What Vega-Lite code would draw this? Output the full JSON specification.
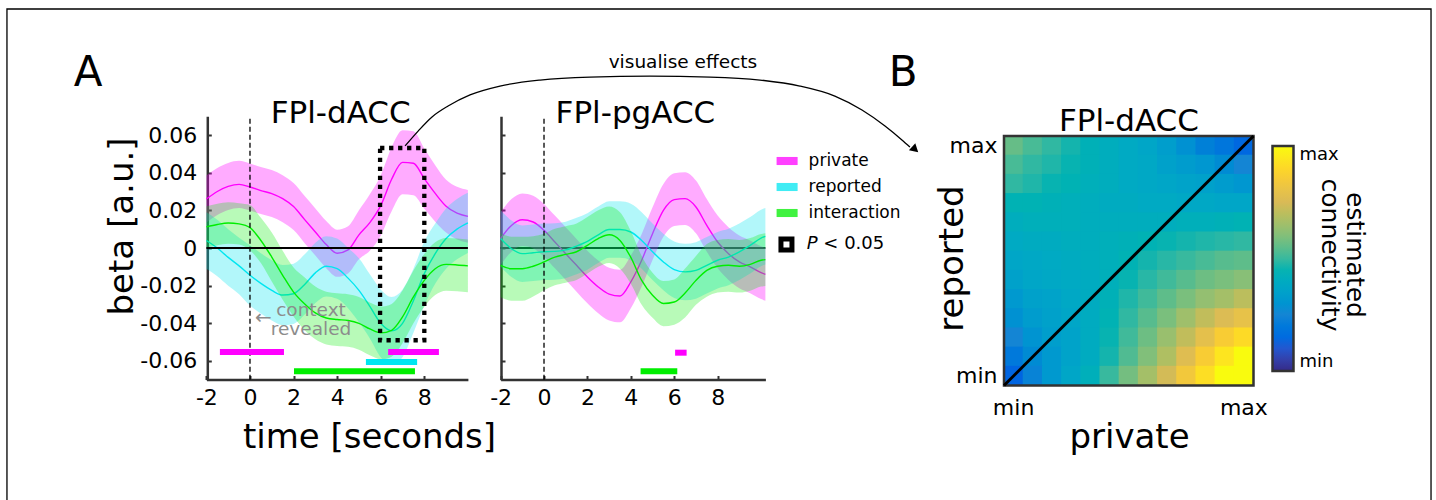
{
"$schema": "https://vega.github.io/schema/vega-lite/v6.json",
"width": 1424,
"height": 491,
"autosize": {"type": "none"},
"padding": {"left": 7, "top": 9, "right": 5, "bottom": 0},
"background": "white",
"config": {
  "font": "DejaVu Sans",
  "view": {"stroke": null},
  "axis": {"grid": false, "domainColor": "#333333", "domainWidth": 2.5, "tickColor": "#333333", "tickWidth": 2, "tickSize": -4, "labelFontSize": 22, "labelColor": "black", "labelFlush": false, "labelOverlap": false, "titleFontWeight": "normal", "titleColor": "black", "titleFontSize": 34},
  "legend": {"labelColor": "black"}
},
"datasets": {
  "curves": [
    {"p":"L","s":"private","t":-2,"b":0.026,"lo":0.0135,"hi":0.0385},
    {"p":"L","s":"private","t":-1.5,"b":0.030,"lo":0.0175,"hi":0.0425},
    {"p":"L","s":"private","t":-1,"b":0.0327,"lo":0.0202,"hi":0.0452},
    {"p":"L","s":"private","t":-0.5,"b":0.0338,"lo":0.0213,"hi":0.0463},
    {"p":"L","s":"private","t":0,"b":0.0324,"lo":0.0199,"hi":0.0449},
    {"p":"L","s":"private","t":0.5,"b":0.0305,"lo":0.018,"hi":0.043},
    {"p":"L","s":"private","t":1,"b":0.0289,"lo":0.0164,"hi":0.0414},
    {"p":"L","s":"private","t":1.5,"b":0.0262,"lo":0.0137,"hi":0.0387},
    {"p":"L","s":"private","t":2,"b":0.022,"lo":0.0095,"hi":0.0345},
    {"p":"L","s":"private","t":2.5,"b":0.0152,"lo":0.0027,"hi":0.0277},
    {"p":"L","s":"private","t":3,"b":0.0085,"lo":-0.004,"hi":0.021},
    {"p":"L","s":"private","t":3.5,"b":0.0018,"lo":-0.0107,"hi":0.0143},
    {"p":"L","s":"private","t":4,"b":-0.0028,"lo":-0.0153,"hi":0.0097},
    {"p":"L","s":"private","t":4.5,"b":-0.001,"lo":-0.0135,"hi":0.0115},
    {"p":"L","s":"private","t":5,"b":0.007,"lo":-0.006,"hi":0.02},
    {"p":"L","s":"private","t":5.5,"b":0.0135,"lo":-0.0015,"hi":0.0285},
    {"p":"L","s":"private","t":6,"b":0.0225,"lo":0.0065,"hi":0.0385},
    {"p":"L","s":"private","t":6.5,"b":0.0365,"lo":0.0195,"hi":0.0535},
    {"p":"L","s":"private","t":7,"b":0.0455,"lo":0.0285,"hi":0.0625},
    {"p":"L","s":"private","t":7.5,"b":0.045,"lo":0.028,"hi":0.062},
    {"p":"L","s":"private","t":8,"b":0.0368,"lo":0.0208,"hi":0.0528},
    {"p":"L","s":"private","t":8.5,"b":0.029,"lo":0.014,"hi":0.044},
    {"p":"L","s":"private","t":9,"b":0.0222,"lo":0.0082,"hi":0.0362},
    {"p":"L","s":"private","t":9.5,"b":0.0185,"lo":0.0045,"hi":0.0325},
    {"p":"L","s":"private","t":10,"b":0.0168,"lo":0.0028,"hi":0.0308},
    {"p":"L","s":"reported","t":-2,"b":0.004,"lo":-0.011,"hi":0.019},
    {"p":"L","s":"reported","t":-1.5,"b":0.0,"lo":-0.015,"hi":0.015},
    {"p":"L","s":"reported","t":-1,"b":-0.005,"lo":-0.02,"hi":0.01},
    {"p":"L","s":"reported","t":-0.5,"b":-0.0095,"lo":-0.0245,"hi":0.0055},
    {"p":"L","s":"reported","t":0,"b":-0.0145,"lo":-0.0305,"hi":0.0015},
    {"p":"L","s":"reported","t":0.5,"b":-0.0188,"lo":-0.0348,"hi":-0.0028},
    {"p":"L","s":"reported","t":1,"b":-0.0225,"lo":-0.0385,"hi":-0.0065},
    {"p":"L","s":"reported","t":1.5,"b":-0.025,"lo":-0.041,"hi":-0.009},
    {"p":"L","s":"reported","t":2,"b":-0.0243,"lo":-0.0403,"hi":-0.0083},
    {"p":"L","s":"reported","t":2.5,"b":-0.0195,"lo":-0.0355,"hi":-0.0035},
    {"p":"L","s":"reported","t":3,"b":-0.0132,"lo":-0.0292,"hi":0.0028},
    {"p":"L","s":"reported","t":3.5,"b":-0.0097,"lo":-0.0257,"hi":0.0063},
    {"p":"L","s":"reported","t":4,"b":-0.011,"lo":-0.027,"hi":0.005},
    {"p":"L","s":"reported","t":4.5,"b":-0.016,"lo":-0.032,"hi":0.0},
    {"p":"L","s":"reported","t":5,"b":-0.0225,"lo":-0.0395,"hi":-0.0055},
    {"p":"L","s":"reported","t":5.5,"b":-0.031,"lo":-0.048,"hi":-0.014},
    {"p":"L","s":"reported","t":6,"b":-0.040,"lo":-0.058,"hi":-0.022},
    {"p":"L","s":"reported","t":6.5,"b":-0.044,"lo":-0.062,"hi":-0.026},
    {"p":"L","s":"reported","t":7,"b":-0.040,"lo":-0.058,"hi":-0.022},
    {"p":"L","s":"reported","t":7.5,"b":-0.028,"lo":-0.045,"hi":-0.011},
    {"p":"L","s":"reported","t":8,"b":-0.0136,"lo":-0.0306,"hi":0.0034},
    {"p":"L","s":"reported","t":8.5,"b":-0.003,"lo":-0.019,"hi":0.013},
    {"p":"L","s":"reported","t":9,"b":0.005,"lo":-0.011,"hi":0.021},
    {"p":"L","s":"reported","t":9.5,"b":0.010,"lo":-0.006,"hi":0.026},
    {"p":"L","s":"reported","t":10,"b":0.0133,"lo":-0.0027,"hi":0.0293},
    {"p":"L","s":"interaction","t":-2,"b":0.0112,"lo":0.0002,"hi":0.0222},
    {"p":"L","s":"interaction","t":-1.5,"b":0.0125,"lo":0.0015,"hi":0.0235},
    {"p":"L","s":"interaction","t":-1,"b":0.0133,"lo":0.0023,"hi":0.0243},
    {"p":"L","s":"interaction","t":-0.5,"b":0.0128,"lo":0.0018,"hi":0.0238},
    {"p":"L","s":"interaction","t":0,"b":0.0108,"lo":-0.0012,"hi":0.0228},
    {"p":"L","s":"interaction","t":0.5,"b":0.004,"lo":-0.008,"hi":0.016},
    {"p":"L","s":"interaction","t":1,"b":-0.0048,"lo":-0.0178,"hi":0.0082},
    {"p":"L","s":"interaction","t":1.5,"b":-0.0145,"lo":-0.0275,"hi":-0.0015},
    {"p":"L","s":"interaction","t":2,"b":-0.0234,"lo":-0.0364,"hi":-0.0104},
    {"p":"L","s":"interaction","t":2.5,"b":-0.0296,"lo":-0.0436,"hi":-0.0156},
    {"p":"L","s":"interaction","t":3,"b":-0.0345,"lo":-0.0485,"hi":-0.0205},
    {"p":"L","s":"interaction","t":3.5,"b":-0.0372,"lo":-0.0512,"hi":-0.0232},
    {"p":"L","s":"interaction","t":4,"b":-0.038,"lo":-0.052,"hi":-0.024},
    {"p":"L","s":"interaction","t":4.5,"b":-0.0385,"lo":-0.0525,"hi":-0.0245},
    {"p":"L","s":"interaction","t":5,"b":-0.040,"lo":-0.054,"hi":-0.026},
    {"p":"L","s":"interaction","t":5.5,"b":-0.043,"lo":-0.057,"hi":-0.029},
    {"p":"L","s":"interaction","t":6,"b":-0.0451,"lo":-0.0591,"hi":-0.0311},
    {"p":"L","s":"interaction","t":6.5,"b":-0.0437,"lo":-0.0577,"hi":-0.0297},
    {"p":"L","s":"interaction","t":7,"b":-0.0366,"lo":-0.0506,"hi":-0.0226},
    {"p":"L","s":"interaction","t":7.5,"b":-0.026,"lo":-0.04,"hi":-0.012},
    {"p":"L","s":"interaction","t":8,"b":-0.0172,"lo":-0.0312,"hi":-0.0032},
    {"p":"L","s":"interaction","t":8.5,"b":-0.011,"lo":-0.025,"hi":0.003},
    {"p":"L","s":"interaction","t":9,"b":-0.0087,"lo":-0.0227,"hi":0.0053},
    {"p":"L","s":"interaction","t":9.5,"b":-0.009,"lo":-0.023,"hi":0.005},
    {"p":"L","s":"interaction","t":10,"b":-0.0095,"lo":-0.0235,"hi":0.0045},
    {"p":"M","s":"private","t":-2,"b":0.005,"lo":-0.009,"hi":0.019},
    {"p":"M","s":"private","t":-1.5,"b":0.012,"lo":-0.002,"hi":0.026},
    {"p":"M","s":"private","t":-1,"b":0.015,"lo":0.001,"hi":0.029},
    {"p":"M","s":"private","t":-0.5,"b":0.0138,"lo":-0.0002,"hi":0.0278},
    {"p":"M","s":"private","t":0,"b":0.0094,"lo":-0.0046,"hi":0.0234},
    {"p":"M","s":"private","t":0.5,"b":0.0032,"lo":-0.0108,"hi":0.0172},
    {"p":"M","s":"private","t":1,"b":-0.003,"lo":-0.017,"hi":0.011},
    {"p":"M","s":"private","t":1.5,"b":-0.0092,"lo":-0.0232,"hi":0.0048},
    {"p":"M","s":"private","t":2,"b":-0.0154,"lo":-0.0294,"hi":-0.0014},
    {"p":"M","s":"private","t":2.5,"b":-0.0207,"lo":-0.0347,"hi":-0.0067},
    {"p":"M","s":"private","t":3,"b":-0.0245,"lo":-0.0385,"hi":-0.0105},
    {"p":"M","s":"private","t":3.5,"b":-0.0255,"lo":-0.0395,"hi":-0.0115},
    {"p":"M","s":"private","t":4,"b":-0.018,"lo":-0.032,"hi":-0.004},
    {"p":"M","s":"private","t":4.5,"b":-0.0065,"lo":-0.0205,"hi":0.0075},
    {"p":"M","s":"private","t":5,"b":0.0076,"lo":-0.0064,"hi":0.0216},
    {"p":"M","s":"private","t":5.5,"b":0.020,"lo":0.006,"hi":0.034},
    {"p":"M","s":"private","t":6,"b":0.0257,"lo":0.0117,"hi":0.0397},
    {"p":"M","s":"private","t":6.5,"b":0.0262,"lo":0.0122,"hi":0.0402},
    {"p":"M","s":"private","t":7,"b":0.0218,"lo":0.0078,"hi":0.0358},
    {"p":"M","s":"private","t":7.5,"b":0.012,"lo":-0.002,"hi":0.026},
    {"p":"M","s":"private","t":8,"b":0.0032,"lo":-0.0108,"hi":0.0172},
    {"p":"M","s":"private","t":8.5,"b":-0.003,"lo":-0.017,"hi":0.011},
    {"p":"M","s":"private","t":9,"b":-0.0074,"lo":-0.0214,"hi":0.0066},
    {"p":"M","s":"private","t":9.5,"b":-0.010,"lo":-0.024,"hi":0.004},
    {"p":"M","s":"private","t":10,"b":-0.0131,"lo":-0.0271,"hi":0.0009},
    {"p":"M","s":"private","t":10.2,"b":-0.014,"lo":-0.028,"hi":0.0},
    {"p":"M","s":"reported","t":-2,"b":0.005,"lo":-0.01,"hi":0.02},
    {"p":"M","s":"reported","t":-1.5,"b":-0.0004,"lo":-0.0154,"hi":0.0146},
    {"p":"M","s":"reported","t":-1,"b":-0.003,"lo":-0.018,"hi":0.012},
    {"p":"M","s":"reported","t":-0.5,"b":-0.0025,"lo":-0.0175,"hi":0.0125},
    {"p":"M","s":"reported","t":0,"b":-0.002,"lo":-0.017,"hi":0.013},
    {"p":"M","s":"reported","t":0.5,"b":-0.0018,"lo":-0.0168,"hi":0.0132},
    {"p":"M","s":"reported","t":1,"b":-0.001,"lo":-0.016,"hi":0.014},
    {"p":"M","s":"reported","t":1.5,"b":0.001,"lo":-0.014,"hi":0.016},
    {"p":"M","s":"reported","t":2,"b":0.0035,"lo":-0.0115,"hi":0.0185},
    {"p":"M","s":"reported","t":2.5,"b":0.007,"lo":-0.008,"hi":0.022},
    {"p":"M","s":"reported","t":3,"b":0.0098,"lo":-0.0052,"hi":0.0248},
    {"p":"M","s":"reported","t":3.5,"b":0.0098,"lo":-0.0052,"hi":0.0248},
    {"p":"M","s":"reported","t":4,"b":0.0085,"lo":-0.0065,"hi":0.0235},
    {"p":"M","s":"reported","t":4.5,"b":0.004,"lo":-0.011,"hi":0.019},
    {"p":"M","s":"reported","t":5,"b":-0.002,"lo":-0.017,"hi":0.013},
    {"p":"M","s":"reported","t":5.5,"b":-0.0074,"lo":-0.0224,"hi":0.0076},
    {"p":"M","s":"reported","t":6,"b":-0.0115,"lo":-0.0265,"hi":0.0035},
    {"p":"M","s":"reported","t":6.5,"b":-0.0127,"lo":-0.0277,"hi":0.0023},
    {"p":"M","s":"reported","t":7,"b":-0.0119,"lo":-0.0269,"hi":0.0031},
    {"p":"M","s":"reported","t":7.5,"b":-0.0092,"lo":-0.0242,"hi":0.0058},
    {"p":"M","s":"reported","t":8,"b":-0.0065,"lo":-0.0215,"hi":0.0085},
    {"p":"M","s":"reported","t":8.5,"b":-0.0048,"lo":-0.0198,"hi":0.0102},
    {"p":"M","s":"reported","t":9,"b":-0.002,"lo":-0.017,"hi":0.013},
    {"p":"M","s":"reported","t":9.5,"b":0.0014,"lo":-0.0136,"hi":0.0164},
    {"p":"M","s":"reported","t":10,"b":0.0053,"lo":-0.0097,"hi":0.0203},
    {"p":"M","s":"reported","t":10.2,"b":0.0062,"lo":-0.0088,"hi":0.0212},
    {"p":"M","s":"interaction","t":-2,"b":-0.0092,"lo":-0.0262,"hi":0.0078},
    {"p":"M","s":"interaction","t":-1.5,"b":-0.011,"lo":-0.028,"hi":0.006},
    {"p":"M","s":"interaction","t":-1,"b":-0.011,"lo":-0.028,"hi":0.006},
    {"p":"M","s":"interaction","t":-0.5,"b":-0.0097,"lo":-0.0257,"hi":0.0063},
    {"p":"M","s":"interaction","t":0,"b":-0.0074,"lo":-0.0224,"hi":0.0076},
    {"p":"M","s":"interaction","t":0.5,"b":-0.0048,"lo":-0.0198,"hi":0.0102},
    {"p":"M","s":"interaction","t":1,"b":-0.0034,"lo":-0.0184,"hi":0.0116},
    {"p":"M","s":"interaction","t":1.5,"b":-0.002,"lo":-0.017,"hi":0.013},
    {"p":"M","s":"interaction","t":2,"b":0.0014,"lo":-0.0136,"hi":0.0164},
    {"p":"M","s":"interaction","t":2.5,"b":0.005,"lo":-0.01,"hi":0.02},
    {"p":"M","s":"interaction","t":3,"b":0.007,"lo":-0.008,"hi":0.022},
    {"p":"M","s":"interaction","t":3.5,"b":0.004,"lo":-0.011,"hi":0.019},
    {"p":"M","s":"interaction","t":4,"b":-0.005,"lo":-0.019,"hi":0.009},
    {"p":"M","s":"interaction","t":4.5,"b":-0.0172,"lo":-0.0302,"hi":-0.0042},
    {"p":"M","s":"interaction","t":5,"b":-0.0251,"lo":-0.0371,"hi":-0.0131},
    {"p":"M","s":"interaction","t":5.5,"b":-0.0295,"lo":-0.0415,"hi":-0.0175},
    {"p":"M","s":"interaction","t":6,"b":-0.0287,"lo":-0.0407,"hi":-0.0167},
    {"p":"M","s":"interaction","t":6.5,"b":-0.0239,"lo":-0.0369,"hi":-0.0109},
    {"p":"M","s":"interaction","t":7,"b":-0.0172,"lo":-0.0302,"hi":-0.0042},
    {"p":"M","s":"interaction","t":7.5,"b":-0.0119,"lo":-0.0259,"hi":0.0021},
    {"p":"M","s":"interaction","t":8,"b":-0.0097,"lo":-0.0237,"hi":0.0043},
    {"p":"M","s":"interaction","t":8.5,"b":-0.0092,"lo":-0.0232,"hi":0.0048},
    {"p":"M","s":"interaction","t":9,"b":-0.0097,"lo":-0.0237,"hi":0.0043},
    {"p":"M","s":"interaction","t":9.5,"b":-0.0087,"lo":-0.0227,"hi":0.0053},
    {"p":"M","s":"interaction","t":10,"b":-0.0065,"lo":-0.0205,"hi":0.0075},
    {"p":"M","s":"interaction","t":10.2,"b":-0.0062,"lo":-0.0202,"hi":0.0078}
  ],
  "sig": [
    {"p":"L","s":"private","t0":-1.38,"t1":1.56},
    {"p":"L","s":"private","t0":6.34,"t1":8.67},
    {"p":"L","s":"reported","t0":5.32,"t1":7.67},
    {"p":"L","s":"interaction","t0":2.02,"t1":7.57},
    {"p":"M","s":"private","t0":6.04,"t1":6.57},
    {"p":"M","s":"interaction","t0":4.45,"t1":6.14}
  ],
  "arrow": [
    {"t":-6.40,"v":0.0542},{"t":-5.80,"v":0.0621},{"t":-5.16,"v":0.0696},{"t":-4.42,"v":0.0754},
    {"t":-3.41,"v":0.0813},{"t":-2.03,"v":0.0860},{"t":-0.18,"v":0.0892},{"t":2.12,"v":0.0908},
    {"t":4.88,"v":0.0913},{"t":7.65,"v":0.0908},{"t":9.95,"v":0.0892},{"t":11.79,"v":0.0860},
    {"t":13.40,"v":0.0807},{"t":14.65,"v":0.0733},{"t":15.71,"v":0.0648},{"t":16.49,"v":0.0574},
    {"t":16.86,"v":0.0536}
  ],
  "heat": [
    {"p":1,"r":13,"c":0.56},{"p":2,"r":13,"c":0.52},{"p":3,"r":13,"c":0.49},{"p":4,"r":13,"c":0.46},{"p":5,"r":13,"c":0.43},{"p":6,"r":13,"c":0.41},{"p":7,"r":13,"c":0.39},{"p":8,"r":13,"c":0.37},{"p":9,"r":13,"c":0.34},{"p":10,"r":13,"c":0.29},{"p":11,"r":13,"c":0.23},{"p":12,"r":13,"c":0.19},{"p":13,"r":13,"c":0.14},
    {"p":1,"r":12,"c":0.52},{"p":2,"r":12,"c":0.49},{"p":3,"r":12,"c":0.47},{"p":4,"r":12,"c":0.45},{"p":5,"r":12,"c":0.43},{"p":6,"r":12,"c":0.41},{"p":7,"r":12,"c":0.39},{"p":8,"r":12,"c":0.38},{"p":9,"r":12,"c":0.35},{"p":10,"r":12,"c":0.33},{"p":11,"r":12,"c":0.31},{"p":12,"r":12,"c":0.27},{"p":13,"r":12,"c":0.25},
    {"p":1,"r":11,"c":0.49},{"p":2,"r":11,"c":0.47},{"p":3,"r":11,"c":0.45},{"p":4,"r":11,"c":0.44},{"p":5,"r":11,"c":0.42},{"p":6,"r":11,"c":0.41},{"p":7,"r":11,"c":0.39},{"p":8,"r":11,"c":0.38},{"p":9,"r":11,"c":0.37},{"p":10,"r":11,"c":0.36},{"p":11,"r":11,"c":0.35},{"p":12,"r":11,"c":0.33},{"p":13,"r":11,"c":0.31},
    {"p":1,"r":10,"c":0.44},{"p":2,"r":10,"c":0.44},{"p":3,"r":10,"c":0.43},{"p":4,"r":10,"c":0.42},{"p":5,"r":10,"c":0.41},{"p":6,"r":10,"c":0.40},{"p":7,"r":10,"c":0.40},{"p":8,"r":10,"c":0.39},{"p":9,"r":10,"c":0.39},{"p":10,"r":10,"c":0.38},{"p":11,"r":10,"c":0.38},{"p":12,"r":10,"c":0.37},{"p":13,"r":10,"c":0.37},
    {"p":1,"r":9,"c":0.41},{"p":2,"r":9,"c":0.42},{"p":3,"r":9,"c":0.42},{"p":4,"r":9,"c":0.42},{"p":5,"r":9,"c":0.41},{"p":6,"r":9,"c":0.41},{"p":7,"r":9,"c":0.41},{"p":8,"r":9,"c":0.41},{"p":9,"r":9,"c":0.41},{"p":10,"r":9,"c":0.42},{"p":11,"r":9,"c":0.42},{"p":12,"r":9,"c":0.43},{"p":13,"r":9,"c":0.44},
    {"p":1,"r":8,"c":0.39},{"p":2,"r":8,"c":0.40},{"p":3,"r":8,"c":0.40},{"p":4,"r":8,"c":0.41},{"p":5,"r":8,"c":0.41},{"p":6,"r":8,"c":0.42},{"p":7,"r":8,"c":0.43},{"p":8,"r":8,"c":0.44},{"p":9,"r":8,"c":0.45},{"p":10,"r":8,"c":0.46},{"p":11,"r":8,"c":0.47},{"p":12,"r":8,"c":0.48},{"p":13,"r":8,"c":0.49},
    {"p":1,"r":7,"c":0.37},{"p":2,"r":7,"c":0.38},{"p":3,"r":7,"c":0.39},{"p":4,"r":7,"c":0.40},{"p":5,"r":7,"c":0.41},{"p":6,"r":7,"c":0.42},{"p":7,"r":7,"c":0.44},{"p":8,"r":7,"c":0.46},{"p":9,"r":7,"c":0.48},{"p":10,"r":7,"c":0.50},{"p":11,"r":7,"c":0.52},{"p":12,"r":7,"c":0.54},{"p":13,"r":7,"c":0.55},
    {"p":1,"r":6,"c":0.35},{"p":2,"r":6,"c":0.37},{"p":3,"r":6,"c":0.38},{"p":4,"r":6,"c":0.39},{"p":5,"r":6,"c":0.40},{"p":6,"r":6,"c":0.42},{"p":7,"r":6,"c":0.45},{"p":8,"r":6,"c":0.48},{"p":9,"r":6,"c":0.51},{"p":10,"r":6,"c":0.54},{"p":11,"r":6,"c":0.57},{"p":12,"r":6,"c":0.59},{"p":13,"r":6,"c":0.61},
    {"p":1,"r":5,"c":0.32},{"p":2,"r":5,"c":0.35},{"p":3,"r":5,"c":0.36},{"p":4,"r":5,"c":0.38},{"p":5,"r":5,"c":0.40},{"p":6,"r":5,"c":0.43},{"p":7,"r":5,"c":0.47},{"p":8,"r":5,"c":0.51},{"p":9,"r":5,"c":0.55},{"p":10,"r":5,"c":0.59},{"p":11,"r":5,"c":0.63},{"p":12,"r":5,"c":0.66},{"p":13,"r":5,"c":0.70},
    {"p":1,"r":4,"c":0.29},{"p":2,"r":4,"c":0.33},{"p":3,"r":4,"c":0.35},{"p":4,"r":4,"c":0.37},{"p":5,"r":4,"c":0.40},{"p":6,"r":4,"c":0.44},{"p":7,"r":4,"c":0.49},{"p":8,"r":4,"c":0.54},{"p":9,"r":4,"c":0.59},{"p":10,"r":4,"c":0.65},{"p":11,"r":4,"c":0.71},{"p":12,"r":4,"c":0.76},{"p":13,"r":4,"c":0.80},
    {"p":1,"r":3,"c":0.25},{"p":2,"r":3,"c":0.30},{"p":3,"r":3,"c":0.34},{"p":4,"r":3,"c":0.36},{"p":5,"r":3,"c":0.40},{"p":6,"r":3,"c":0.45},{"p":7,"r":3,"c":0.51},{"p":8,"r":3,"c":0.57},{"p":9,"r":3,"c":0.64},{"p":10,"r":3,"c":0.71},{"p":11,"r":3,"c":0.79},{"p":12,"r":3,"c":0.86},{"p":13,"r":3,"c":0.91},
    {"p":1,"r":2,"c":0.20},{"p":2,"r":2,"c":0.27},{"p":3,"r":2,"c":0.32},{"p":4,"r":2,"c":0.36},{"p":5,"r":2,"c":0.40},{"p":6,"r":2,"c":0.46},{"p":7,"r":2,"c":0.53},{"p":8,"r":2,"c":0.60},{"p":9,"r":2,"c":0.68},{"p":10,"r":2,"c":0.77},{"p":11,"r":2,"c":0.86},{"p":12,"r":2,"c":0.94},{"p":13,"r":2,"c":1.0},
    {"p":1,"r":1,"c":0.13},{"p":2,"r":1,"c":0.24},{"p":3,"r":1,"c":0.32},{"p":4,"r":1,"c":0.37},{"p":5,"r":1,"c":0.42},{"p":6,"r":1,"c":0.50},{"p":7,"r":1,"c":0.58},{"p":8,"r":1,"c":0.66},{"p":9,"r":1,"c":0.74},{"p":10,"r":1,"c":0.84},{"p":11,"r":1,"c":0.92},{"p":12,"r":1,"c":1.0},{"p":13,"r":1,"c":1.0}
  ]
},
"layer": [
  {
    "layer": [
      {"data": {"name": "curves"}, "transform": [{"filter": "datum.p == 'L' && datum.s == 'private'"}],
       "mark": {"type": "area", "fillOpacity": 0.33, "interpolate": "monotone"},
       "encoding": {
         "x": {"field": "t", "type": "quantitative", "scale": {"domain": [-2, 10], "range": [199.4, 460.9], "nice": false, "zero": false},
               "axis": {"orient": "bottom", "offset": -120.5, "values": [-2, 0, 2, 4, 6, 8], "labelExpr": "replace(format(datum.value, 'd'), '\u2212', '-')", "labelPadding": 11.5, "title": "time [seconds]", "titleX": 362, "titleY": 57.5, "titleBaseline": "middle", "titleAlign": "center"}},
         "y": {"field": "lo", "type": "quantitative", "scale": {"domain": [-0.07, 0.07], "range": [370.8, 107.2], "nice": false, "zero": false},
               "axis": {"orient": "left", "offset": -200.3, "values": [-0.06, -0.04, -0.02, 0, 0.02, 0.04, 0.06], "labelExpr": "datum.value == 0 ? '0' : replace(format(datum.value, '.2f'), '\u2212', '-')", "labelPadding": 14.5, "title": "beta [a.u.]", "titleX": -85, "titleY": 217, "titleBaseline": "middle", "titleAlign": "center", "titleAngle": -90}},
         "y2": {"field": "hi"},
         "color": {"field": "s", "type": "nominal", "scale": {"domain": ["private", "reported", "interaction"], "range": ["#ff00ff", "#00e6f0", "#00ee00"]}, "legend": null}
       }},
      {"data": {"name": "curves"}, "transform": [{"filter": "datum.p == 'L' && datum.s == 'private'"}],
       "mark": {"type": "line", "strokeWidth": 1.4, "interpolate": "monotone"},
       "encoding": {"x": {"field": "t", "type": "quantitative"}, "y": {"field": "b", "type": "quantitative"}, "color": {"field": "s", "type": "nominal"}}},
      {"data": {"name": "curves"}, "transform": [{"filter": "datum.p == 'L' && datum.s == 'reported'"}],
       "mark": {"type": "area", "fillOpacity": 0.3, "interpolate": "monotone"},
       "encoding": {"x": {"field": "t", "type": "quantitative"}, "y": {"field": "lo", "type": "quantitative"}, "y2": {"field": "hi"}, "color": {"field": "s", "type": "nominal"}}},
      {"data": {"name": "curves"}, "transform": [{"filter": "datum.p == 'L' && datum.s == 'reported'"}],
       "mark": {"type": "line", "strokeWidth": 1.4, "interpolate": "monotone"},
       "encoding": {"x": {"field": "t", "type": "quantitative"}, "y": {"field": "b", "type": "quantitative"}, "color": {"field": "s", "type": "nominal"}}},
      {"data": {"name": "curves"}, "transform": [{"filter": "datum.p == 'L' && datum.s == 'interaction'"}],
       "mark": {"type": "area", "fillOpacity": 0.28, "interpolate": "monotone"},
       "encoding": {"x": {"field": "t", "type": "quantitative"}, "y": {"field": "lo", "type": "quantitative"}, "y2": {"field": "hi"}, "color": {"field": "s", "type": "nominal"}}},
      {"data": {"name": "curves"}, "transform": [{"filter": "datum.p == 'L' && datum.s == 'interaction'"}],
       "mark": {"type": "line", "strokeWidth": 1.4, "interpolate": "monotone"},
       "encoding": {"x": {"field": "t", "type": "quantitative"}, "y": {"field": "b", "type": "quantitative"}, "color": {"field": "s", "type": "nominal"}}},
      {"data": {"values": [{}]}, "mark": {"type": "rule", "color": "black", "strokeWidth": 2},
       "encoding": {"x": {"datum": -2, "type": "quantitative"}, "x2": {"datum": 10}, "y": {"datum": 0, "type": "quantitative"}}},
      {"data": {"values": [{}]}, "mark": {"type": "rule", "color": "black", "strokeWidth": 1.3, "strokeDash": [5, 3]},
       "encoding": {"x": {"datum": 0, "type": "quantitative"}, "y": {"datum": -0.07, "type": "quantitative"}, "y2": {"datum": 0.07}}},
      {"data": {"name": "sig"}, "transform": [{"filter": "datum.p == 'L' && datum.s == 'private'"}],
       "mark": {"type": "rule", "strokeWidth": 6},
       "encoding": {"x": {"field": "t0", "type": "quantitative"}, "x2": {"field": "t1"}, "y": {"datum": -0.0552, "type": "quantitative"}, "color": {"field": "s", "type": "nominal"}}},
      {"data": {"name": "sig"}, "transform": [{"filter": "datum.p == 'L' && datum.s == 'reported'"}],
       "mark": {"type": "rule", "strokeWidth": 6},
       "encoding": {"x": {"field": "t0", "type": "quantitative"}, "x2": {"field": "t1"}, "y": {"datum": -0.0605, "type": "quantitative"}, "color": {"field": "s", "type": "nominal"}}},
      {"data": {"name": "sig"}, "transform": [{"filter": "datum.p == 'L' && datum.s == 'interaction'"}],
       "mark": {"type": "rule", "strokeWidth": 6},
       "encoding": {"x": {"field": "t0", "type": "quantitative"}, "x2": {"field": "t1"}, "y": {"datum": -0.0655, "type": "quantitative"}, "color": {"field": "s", "type": "nominal"}}},
      {"data": {"values": [{}]}, "mark": {"type": "rect", "fillOpacity": 0, "stroke": "black", "strokeWidth": 4.3, "strokeDash": [4.3, 4.7]},
       "encoding": {"x": {"datum": 5.97, "type": "quantitative"}, "x2": {"datum": 8.0}, "y": {"datum": -0.049, "type": "quantitative"}, "y2": {"datum": 0.0531}}},
      {"data": {"values": [{}]}, "mark": {"type": "text", "text": "FPl-dACC", "fontSize": 31, "baseline": "alphabetic", "align": "center", "color": "black"},
       "encoding": {"x": {"datum": 4.16, "type": "quantitative"}, "y": {"datum": 0.0664, "type": "quantitative"}}},
      {"data": {"values": [{}]}, "mark": {"type": "text", "text": "A", "fontSize": 42, "baseline": "middle", "align": "center", "color": "black"},
       "encoding": {"x": {"datum": -7.43, "type": "quantitative"}, "y": {"datum": 0.0929, "type": "quantitative"}}},
      {"data": {"values": [{}]}, "mark": {"type": "text", "text": ["context", "revealed"], "fontSize": 18.5, "lineHeight": 19.5, "baseline": "middle", "align": "center", "color": "#8c8c8c"},
       "encoding": {"x": {"datum": 2.8, "type": "quantitative"}, "y": {"datum": -0.0329, "type": "quantitative"}}},
      {"data": {"values": [{}]}, "mark": {"type": "text", "text": "\u2190", "fontSize": 20, "baseline": "middle", "align": "center", "color": "#8c8c8c"},
       "encoding": {"x": {"datum": 0.62, "type": "quantitative"}, "y": {"datum": -0.0372, "type": "quantitative"}}}
    ]
  },
  {
    "layer": [
      {"data": {"values": [{}]}, "mark": {"type": "rule", "color": "black", "strokeWidth": 2},
       "encoding": {"x": {"datum": -2, "type": "quantitative", "scale": {"domain": [-2, 10.2], "range": [493.6, 758.4], "nice": false, "zero": false},
               "axis": {"orient": "bottom", "offset": -120.5, "values": [-2, 0, 2, 4, 6, 8], "labelExpr": "replace(format(datum.value, 'd'), '\u2212', '-')", "labelPadding": 11.5, "title": null}},
                    "x2": {"datum": 10.2},
                    "y": {"datum": 0, "type": "quantitative", "scale": {"domain": [-0.07, 0.07], "range": [370.8, 107.2], "nice": false, "zero": false},
               "axis": {"orient": "left", "offset": -494, "values": [-0.06, -0.04, -0.02, 0, 0.02, 0.04, 0.06], "labels": false, "title": null}}}},
      {"data": {"name": "curves"}, "transform": [{"filter": "datum.p == 'M' && datum.s == 'private'"}],
       "mark": {"type": "area", "fillOpacity": 0.33, "interpolate": "monotone"},
       "encoding": {"x": {"field": "t", "type": "quantitative"}, "y": {"field": "lo", "type": "quantitative"}, "y2": {"field": "hi"},
         "color": {"field": "s", "type": "nominal", "scale": {"domain": ["private", "reported", "interaction"], "range": ["#ff00ff", "#00e6f0", "#00ee00"]},
           "legend": {"orient": "none", "legendX": 771.6, "legendY": 143.5, "title": null, "padding": 0, "symbolType": "M-1.3,-0.5H1.3V0.5H-1.3Z", "symbolSize": 262, "symbolStrokeWidth": 0, "symbolOpacity": 0.75, "labelFontSize": 17, "labelOffset": 13, "rowPadding": 8}}}},
      {"data": {"name": "curves"}, "transform": [{"filter": "datum.p == 'M' && datum.s == 'private'"}],
       "mark": {"type": "line", "strokeWidth": 1.4, "interpolate": "monotone"},
       "encoding": {"x": {"field": "t", "type": "quantitative"}, "y": {"field": "b", "type": "quantitative"}, "color": {"field": "s", "type": "nominal"}}},
      {"data": {"name": "curves"}, "transform": [{"filter": "datum.p == 'M' && datum.s == 'reported'"}],
       "mark": {"type": "area", "fillOpacity": 0.3, "interpolate": "monotone"},
       "encoding": {"x": {"field": "t", "type": "quantitative"}, "y": {"field": "lo", "type": "quantitative"}, "y2": {"field": "hi"}, "color": {"field": "s", "type": "nominal"}}},
      {"data": {"name": "curves"}, "transform": [{"filter": "datum.p == 'M' && datum.s == 'reported'"}],
       "mark": {"type": "line", "strokeWidth": 1.4, "interpolate": "monotone"},
       "encoding": {"x": {"field": "t", "type": "quantitative"}, "y": {"field": "b", "type": "quantitative"}, "color": {"field": "s", "type": "nominal"}}},
      {"data": {"name": "curves"}, "transform": [{"filter": "datum.p == 'M' && datum.s == 'interaction'"}],
       "mark": {"type": "area", "fillOpacity": 0.28, "interpolate": "monotone"},
       "encoding": {"x": {"field": "t", "type": "quantitative"}, "y": {"field": "lo", "type": "quantitative"}, "y2": {"field": "hi"}, "color": {"field": "s", "type": "nominal"}}},
      {"data": {"name": "curves"}, "transform": [{"filter": "datum.p == 'M' && datum.s == 'interaction'"}],
       "mark": {"type": "line", "strokeWidth": 1.4, "interpolate": "monotone"},
       "encoding": {"x": {"field": "t", "type": "quantitative"}, "y": {"field": "b", "type": "quantitative"}, "color": {"field": "s", "type": "nominal"}}},
      {"data": {"values": [{}]}, "mark": {"type": "rule", "color": "black", "strokeWidth": 1.3, "strokeDash": [5, 3]},
       "encoding": {"x": {"datum": 0, "type": "quantitative"}, "y": {"datum": -0.07, "type": "quantitative"}, "y2": {"datum": 0.07}}},
      {"data": {"name": "sig"}, "transform": [{"filter": "datum.p == 'M' && datum.s == 'private'"}],
       "mark": {"type": "rule", "strokeWidth": 6},
       "encoding": {"x": {"field": "t0", "type": "quantitative"}, "x2": {"field": "t1"}, "y": {"datum": -0.0556, "type": "quantitative"}, "color": {"field": "s", "type": "nominal"}}},
      {"data": {"name": "sig"}, "transform": [{"filter": "datum.p == 'M' && datum.s == 'interaction'"}],
       "mark": {"type": "rule", "strokeWidth": 6},
       "encoding": {"x": {"field": "t0", "type": "quantitative"}, "x2": {"field": "t1"}, "y": {"datum": -0.0655, "type": "quantitative"}, "color": {"field": "s", "type": "nominal"}}},
      {"data": {"values": [{}]}, "mark": {"type": "text", "text": "FPl-pgACC", "fontSize": 31, "baseline": "alphabetic", "align": "center", "color": "black"},
       "encoding": {"x": {"datum": 4.21, "type": "quantitative"}, "y": {"datum": 0.0664, "type": "quantitative"}}},
      {"data": {"name": "arrow"}, "mark": {"type": "line", "color": "black", "strokeWidth": 1.3, "interpolate": "monotone"},
       "encoding": {"x": {"field": "t", "type": "quantitative"}, "y": {"field": "v", "type": "quantitative"}}},
      {"data": {"values": [{}]}, "mark": {"type": "point", "shape": "triangle-right", "filled": true, "color": "black", "opacity": 1, "size": 90, "angle": 42},
       "encoding": {"x": {"datum": 17.1, "type": "quantitative"}, "y": {"datum": 0.0523, "type": "quantitative"}}},
      {"data": {"values": [{}]}, "mark": {"type": "text", "text": "visualise effects", "fontSize": 18.5, "baseline": "middle", "align": "center", "color": "black"},
       "encoding": {"x": {"datum": 6.4, "type": "quantitative"}, "y": {"datum": 0.0988, "type": "quantitative"}}},
      {"data": {"values": [{}]}, "mark": {"type": "point", "shape": "square", "filled": false, "fill": "white", "stroke": "black", "strokeWidth": 5, "size": 121, "opacity": 1},
       "encoding": {"x": {"datum": 11.17, "type": "quantitative"}, "y": {"datum": 0.0019, "type": "quantitative"}}},
      {"data": {"values": [{}]}, "mark": {"type": "text", "text": "P", "fontStyle": "italic", "fontSize": 18, "baseline": "middle", "align": "left", "color": "black"},
       "encoding": {"x": {"datum": 12.1, "type": "quantitative"}, "y": {"datum": 0.0019, "type": "quantitative"}}},
      {"data": {"values": [{}]}, "mark": {"type": "text", "text": "< 0.05", "fontSize": 18, "baseline": "middle", "align": "left", "color": "black"},
       "encoding": {"x": {"datum": 12.87, "type": "quantitative"}, "y": {"datum": 0.0019, "type": "quantitative"}}}
    ]
  },
  {
    "data": {"name": "heat"},
    "mark": {"type": "rect", "width": {"band": 1.05}, "height": {"band": 1.05}},
    "encoding": {
      "x": {"field": "p", "type": "ordinal", "scale": {"domain": [1,2,3,4,5,6,7,8,9,10,11,12,13], "range": [997, 1246.5], "paddingInner": 0, "paddingOuter": 0},
            "axis": {"orient": "bottom", "offset": -114.5, "values": [1, 13], "labelExpr": "datum.value == 1 ? 'min' : 'max'", "ticks": false, "tickSize": 0, "domain": false, "labelAngle": 0, "labelPadding": 12, "title": "private", "titleX": 1122, "titleY": 51.5, "titleBaseline": "middle", "titleAlign": "center"}},
      "y": {"field": "r", "type": "ordinal", "scale": {"domain": [13,12,11,10,9,8,7,6,5,4,3,2,1], "range": [127, 376.5], "paddingInner": 0, "paddingOuter": 0},
            "axis": {"orient": "left", "offset": -997, "values": [1, 13], "labelExpr": "datum.value == 1 ? 'min' : 'max'", "ticks": false, "tickSize": 0, "domain": false, "labelPadding": 7, "title": "reported", "titleX": -52, "titleY": 249, "titleBaseline": "middle", "titleAlign": "center", "titleAngle": -90}},
      "color": {"field": "c", "type": "quantitative",
        "scale": {"domain": [0, 0.125, 0.25, 0.375, 0.5, 0.625, 0.75, 0.875, 1], "range": ["#352a87", "#0363e1", "#1485d4", "#06a7c6", "#38b99e", "#92bf73", "#d9ba56", "#fcce2e", "#f9fb0e"]},
        "legend": {"type": "gradient", "orient": "none", "legendX": 1265.5, "legendY": 137, "direction": "vertical", "title": null, "padding": 0, "gradientLength": 225, "gradientThickness": 21, "gradientStrokeColor": "#333333", "gradientStrokeWidth": 2.5, "values": [0, 1], "labelExpr": "datum.value == 0 ? 'min' : 'max'", "labelFontSize": 18, "labelOffset": 6}}
    }
  },
  {
    "layer": [
      {"data": {"values": [{}]}, "mark": {"type": "rect", "fillOpacity": 0, "stroke": "#333333", "strokeWidth": 2.5},
       "encoding": {"x": {"datum": 0, "type": "quantitative", "scale": {"domain": [0, 13], "range": [997, 1246.5], "nice": false, "zero": false}, "axis": null},
                    "x2": {"datum": 13},
                    "y": {"datum": 0, "type": "quantitative", "scale": {"domain": [0, 13], "range": [376.5, 127], "nice": false, "zero": false}, "axis": null},
                    "y2": {"datum": 13}}},
      {"data": {"values": [{}]}, "mark": {"type": "rule", "color": "black", "strokeWidth": 3},
       "encoding": {"x": {"datum": 0, "type": "quantitative", "axis": null}, "x2": {"datum": 13}, "y": {"datum": 0, "type": "quantitative", "axis": null}, "y2": {"datum": 13}}},
      {"data": {"values": [{}]}, "mark": {"type": "rect", "fillOpacity": 0, "stroke": "black", "strokeWidth": 1.3},
       "encoding": {"x": {"datum": -51.95, "type": "quantitative", "axis": null}, "x2": {"datum": 22.25}, "y": {"datum": -7, "type": "quantitative", "axis": null}, "y2": {"datum": 19.617}}},
      {"data": {"values": [{}]}, "mark": {"type": "text", "text": "B", "fontSize": 42, "baseline": "middle", "align": "center", "color": "black"},
       "encoding": {"x": {"datum": -5.26, "type": "quantitative", "axis": null}, "y": {"datum": 16.28, "type": "quantitative", "axis": null}}},
      {"data": {"values": [{}]}, "mark": {"type": "text", "text": "FPl-dACC", "fontSize": 31, "baseline": "alphabetic", "align": "center", "color": "black"},
       "encoding": {"x": {"datum": 6.51, "type": "quantitative", "axis": null}, "y": {"datum": 13.26, "type": "quantitative", "axis": null}}},
      {"data": {"values": [{}]}, "mark": {"type": "text", "text": "estimated", "fontSize": 25, "baseline": "middle", "align": "center", "angle": 90, "color": "black"},
       "encoding": {"x": {"datum": 18.3, "type": "quantitative", "axis": null}, "y": {"datum": 6.8, "type": "quantitative", "axis": null}}},
      {"data": {"values": [{}]}, "mark": {"type": "text", "text": "connectivity", "fontSize": 25, "baseline": "middle", "align": "center", "angle": 90, "color": "black"},
       "encoding": {"x": {"datum": 17.0, "type": "quantitative", "axis": null}, "y": {"datum": 6.8, "type": "quantitative", "axis": null}}}
    ]
  }
],
"resolve": {"scale": {"x": "independent", "y": "independent", "color": "independent"}, "axis": {"x": "independent", "y": "independent"}, "legend": {"color": "independent"}}
}
